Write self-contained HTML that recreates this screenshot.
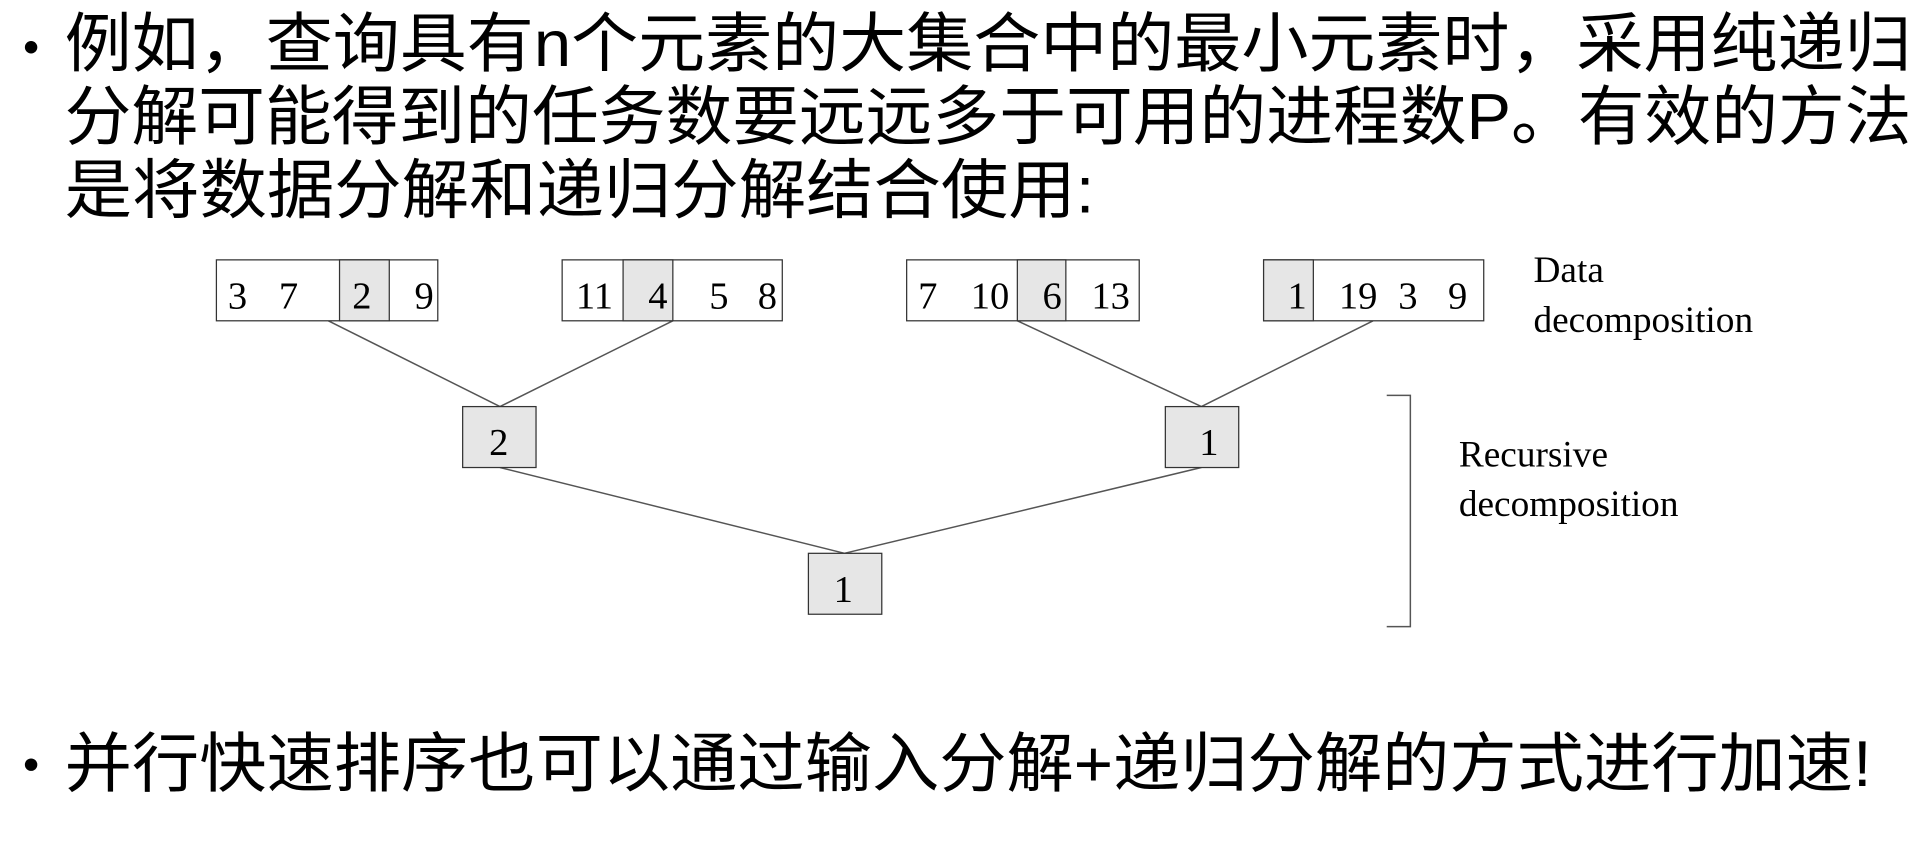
<!DOCTYPE html>
<html><head><meta charset="utf-8"><style>
html,body{margin:0;padding:0;background:#fff;}
svg{display:block;}
.cjk{font-family:"Liberation Sans","Noto Sans CJK SC",sans-serif;font-size:52px;fill:#000;}
.s{font-family:"Liberation Serif",serif;font-size:30px;fill:#000;}
.n{font-family:"Liberation Serif",serif;font-size:31px;fill:#000;text-anchor:middle;}
</style></head><body>
<svg width="1924" height="848" viewBox="0 0 1547 682" preserveAspectRatio="none" xmlns="http://www.w3.org/2000/svg">
<circle cx="25" cy="38" r="5" fill="#000"/>
<text class="cjk" x="52" y="53" textLength="1485" lengthAdjust="spacingAndGlyphs">例如，查询具有n个元素的大集合中的最小元素时，采用纯递归</text>
<text class="cjk" x="52" y="112" textLength="1485" lengthAdjust="spacingAndGlyphs">分解可能得到的任务数要远远多于可用的进程数P。有效的方法</text>
<text class="cjk" x="52" y="171" textLength="828" lengthAdjust="spacingAndGlyphs">是将数据分解和递归分解结合使用:</text>
<circle cx="25" cy="615" r="5" fill="#000"/>
<text class="cjk" x="52" y="632" textLength="1453" lengthAdjust="spacingAndGlyphs">并行快速排序也可以通过输入分解+递归分解的方式进行加速!</text>

<g stroke="#555" stroke-width="1.2" fill="none">
<line x1="264" y1="258" x2="402" y2="327"/>
<line x1="541" y1="258" x2="402" y2="327"/>
<line x1="818" y1="258" x2="966" y2="327"/>
<line x1="1104" y1="258" x2="966" y2="327"/>
<line x1="402" y1="376" x2="679" y2="445"/>
<line x1="966" y1="376" x2="679" y2="445"/>
<polyline points="1115,318 1134,318 1134,504 1115,504"/>
</g>
<g stroke="#333" stroke-width="1">
<rect x="174" y="209" width="178" height="49" fill="#fff"/>
<rect x="273" y="209" width="40" height="49" fill="#e6e6e6"/>
<rect x="452" y="209" width="177" height="49" fill="#fff"/>
<rect x="501" y="209" width="40" height="49" fill="#e6e6e6"/>
<rect x="729" y="209" width="187" height="49" fill="#fff"/>
<rect x="818" y="209" width="39" height="49" fill="#e6e6e6"/>
<rect x="1016" y="209" width="177" height="49" fill="#fff"/>
<rect x="1016" y="209" width="40" height="49" fill="#e6e6e6"/>
<rect x="372" y="327" width="59" height="49" fill="#e6e6e6"/>
<rect x="937" y="327" width="59" height="49" fill="#e6e6e6"/>
<rect x="650" y="445" width="59" height="49" fill="#e6e6e6"/>
</g>
<text class="n" x="191" y="248">3</text><text class="n" x="232" y="248">7</text><text class="n" x="291" y="248">2</text><text class="n" x="341" y="248">9</text>
<text class="n" x="478" y="248">11</text><text class="n" x="529" y="248">4</text><text class="n" x="578" y="248">5</text><text class="n" x="617" y="248">8</text>
<text class="n" x="746" y="248">7</text><text class="n" x="796" y="248">10</text><text class="n" x="846" y="248">6</text><text class="n" x="893" y="248">13</text>
<text class="n" x="1043" y="248">1</text><text class="n" x="1092" y="248">19</text><text class="n" x="1132" y="248">3</text><text class="n" x="1172" y="248">9</text>
<text class="n" x="401" y="366">2</text><text class="n" x="972" y="366">1</text><text class="n" x="678" y="484">1</text>
<text class="s" x="1233" y="227">Data</text>
<text class="s" x="1233" y="267">decomposition</text>
<text class="s" x="1173" y="375">Recursive</text>
<text class="s" x="1173" y="415">decomposition</text>
</svg>
</body></html>
